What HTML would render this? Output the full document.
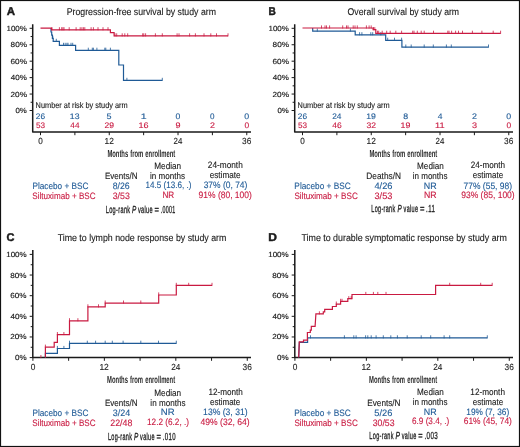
<!DOCTYPE html>
<html><head><meta charset="utf-8"><style>
html,body{margin:0;padding:0;background:#fff;}
svg{display:block;will-change:transform;}
text{font-family:"Liberation Sans",sans-serif;text-rendering:geometricPrecision;}
</style></head><body>
<svg width="520" height="447" viewBox="0 0 520 447">
<rect x="0.5" y="0.5" width="519" height="446" fill="#fff" stroke="#111" stroke-width="1.2"/>
<path d="M32.70,24.20V132.00H251.00" fill="none" stroke="#1a1a1a" stroke-width="1.5" stroke-linejoin="round"/>
<path d="M29.60,28.30H32.70M30.60,36.52H32.70M29.60,44.74H32.70M30.60,52.96H32.70M29.60,61.18H32.70M30.60,69.40H32.70M29.60,77.62H32.70M30.60,85.84H32.70M29.60,94.06H32.70M30.60,102.28H32.70M29.60,110.50H32.70" fill="none" stroke="#1a1a1a" stroke-width="1"/>
<path d="M40.50,132.00V135.20M74.88,132.00V135.20M109.26,132.00V135.20M143.64,132.00V135.20M178.02,132.00V135.20M212.40,132.00V135.20M246.78,132.00V135.20" fill="none" stroke="#1a1a1a" stroke-width="1"/>
<path d="M294.70,24.20V132.00H513.00" fill="none" stroke="#1a1a1a" stroke-width="1.5" stroke-linejoin="round"/>
<path d="M291.60,28.30H294.70M292.60,36.52H294.70M291.60,44.74H294.70M292.60,52.96H294.70M291.60,61.18H294.70M292.60,69.40H294.70M291.60,77.62H294.70M292.60,85.84H294.70M291.60,94.06H294.70M292.60,102.28H294.70M291.60,110.50H294.70" fill="none" stroke="#1a1a1a" stroke-width="1"/>
<path d="M302.50,132.00V135.20M336.88,132.00V135.20M371.26,132.00V135.20M405.64,132.00V135.20M440.02,132.00V135.20M474.40,132.00V135.20M508.78,132.00V135.20" fill="none" stroke="#1a1a1a" stroke-width="1"/>
<path d="M32.80,250.10V357.60H251.00" fill="none" stroke="#1a1a1a" stroke-width="1.5" stroke-linejoin="round"/>
<path d="M29.70,254.40H32.80M30.70,264.72H32.80M29.70,275.04H32.80M30.70,285.36H32.80M29.70,295.68H32.80M30.70,306.00H32.80M29.70,316.32H32.80M30.70,326.64H32.80M29.70,336.96H32.80M30.70,347.28H32.80M29.70,357.60H32.80" fill="none" stroke="#1a1a1a" stroke-width="1"/>
<path d="M32.90,357.60V360.80M68.63,357.60V360.80M104.36,357.60V360.80M140.09,357.60V360.80M175.82,357.60V360.80M211.55,357.60V360.80M247.28,357.60V360.80" fill="none" stroke="#1a1a1a" stroke-width="1"/>
<path d="M294.80,250.10V357.60H513.00" fill="none" stroke="#1a1a1a" stroke-width="1.5" stroke-linejoin="round"/>
<path d="M291.70,254.40H294.80M292.70,264.72H294.80M291.70,275.04H294.80M292.70,285.36H294.80M291.70,295.68H294.80M292.70,306.00H294.80M291.70,316.32H294.80M292.70,326.64H294.80M291.70,336.96H294.80M292.70,347.28H294.80M291.70,357.60H294.80" fill="none" stroke="#1a1a1a" stroke-width="1"/>
<path d="M294.90,357.60V360.80M330.63,357.60V360.80M366.36,357.60V360.80M402.09,357.60V360.80M437.82,357.60V360.80M473.55,357.60V360.80M509.28,357.60V360.80" fill="none" stroke="#1a1a1a" stroke-width="1"/>
<path d="M51.0,28.1V32H51.7V35.2H52.4V38.3H53.2V41.4H59.4V45.4H75.6V50.3H118.8V65H123.5V80.4H162.3" fill="none" stroke="#1f5a96" stroke-width="1.2" stroke-linejoin="miter" stroke-linecap="butt"/>
<path d="M52.80,38.80V35.70M56.30,41.90V38.80M63.50,45.90V42.80M65.20,45.90V42.80M66.90,45.90V42.80M68.00,45.90V42.80M71.00,45.90V42.80M72.70,45.90V42.80M88.30,50.80V47.70M92.30,50.80V47.70M93.40,50.80V47.70M96.90,50.80V47.70M104.80,50.80V47.70M105.80,50.80V47.70M110.40,50.80V47.70M126.90,80.90V77.80M162.30,80.90V77.80" fill="none" stroke="#1f5a96" stroke-width="0.8"/>
<path d="M40.5,28.1H51.6V29.8H110.4V32.7H114.1V35.9H228" fill="none" stroke="#c91a41" stroke-width="1.2" stroke-linejoin="miter" stroke-linecap="butt"/>
<path d="M51.90,30.30V27.20M59.40,30.30V27.20M61.70,30.30V27.20M62.90,30.30V27.20M64.00,30.30V27.20M69.20,30.30V27.20M76.10,30.30V27.20M80.20,30.30V27.20M81.90,30.30V27.20M83.40,30.30V27.20M84.80,30.30V27.20M91.10,30.30V27.20M93.40,30.30V27.20M98.00,30.30V27.20M103.00,30.30V27.20M108.00,30.30V27.20M115.00,36.40V33.30M116.70,36.40V33.30M122.20,36.40V33.30M124.80,36.40V33.30M127.70,36.40V33.30M142.70,36.40V33.30M143.80,36.40V33.30M145.60,36.40V33.30M155.40,36.40V33.30M162.30,36.40V33.30M177.10,36.40V33.30M179.00,36.40V33.30M189.60,36.40V33.30M195.40,36.40V33.30M204.00,36.40V33.30M210.80,36.40V33.30M216.50,36.40V33.30M228.00,36.40V33.30" fill="none" stroke="#c91a41" stroke-width="0.8"/>
<path d="M312.7,28V31.1H355.2V34.8H385.7V40.3H401.9V47.1H488.5" fill="none" stroke="#1f5a96" stroke-width="1.2" stroke-linejoin="miter" stroke-linecap="butt"/>
<path d="M317.30,31.60V28.50M350.40,31.60V28.50M359.60,35.30V32.20M361.90,35.30V32.20M370.80,35.30V32.20M372.70,35.30V32.20M380.80,35.30V32.20M387.70,40.80V37.70M394.50,40.80V37.70M401.60,40.80V37.70M405.80,47.60V44.50M411.20,47.60V44.50M424.20,47.60V44.50M433.30,47.60V44.50M446.40,47.60V44.50M451.30,47.60V44.50M488.50,47.60V44.50" fill="none" stroke="#1f5a96" stroke-width="0.8"/>
<path d="M302.5,28H373.1V29.7H375.8V33.3H500.6" fill="none" stroke="#c91a41" stroke-width="1.2" stroke-linejoin="miter" stroke-linecap="butt"/>
<path d="M321.50,28.50V25.40M325.00,28.50V25.40M326.50,28.50V25.40M329.60,28.50V25.40M342.70,28.50V25.40M346.50,28.50V25.40M348.00,28.50V25.40M353.20,28.50V25.40M355.00,28.50V25.40M357.30,28.50V25.40M366.40,28.50V25.40M369.10,28.50V25.40M371.20,28.50V25.40M373.50,30.20V27.10M374.80,30.20V27.10M377.50,33.80V30.70M378.70,33.80V30.70M382.20,33.80V30.70M386.70,33.80V30.70M390.20,33.80V30.70M395.80,33.80V30.70M401.60,33.80V30.70M412.70,33.80V30.70M414.00,33.80V30.70M417.30,33.80V30.70M421.20,33.80V30.70M424.20,33.80V30.70M433.50,33.80V30.70M447.80,33.80V30.70M449.00,33.80V30.70M451.60,33.80V30.70M455.60,33.80V30.70M458.50,33.80V30.70M462.50,33.80V30.70M472.40,33.80V30.70M481.90,33.80V30.70M493.20,33.80V30.70M500.60,33.80V30.70" fill="none" stroke="#c91a41" stroke-width="0.8"/>
<path d="M45.4,357.6V353.4H57.4V348.5H69.5V343.3H176.3" fill="none" stroke="#1f5a96" stroke-width="1.2" stroke-linejoin="miter" stroke-linecap="butt"/>
<path d="M57.40,349.00V345.90M63.90,349.00V345.90M69.50,343.80V340.70M87.30,343.80V340.70M95.60,343.80V340.70M105.20,343.80V340.70M112.30,343.80V340.70M123.10,343.80V340.70M140.80,343.80V340.70M158.50,343.80V340.70M176.30,343.80V340.70" fill="none" stroke="#1f5a96" stroke-width="0.8"/>
<path d="M45.4,357.6V347.2H54.2V342.4H57.4V334.6H69.5V320.8H87.9V306.9H105.2V303.1H158.7V295H176.3V285.4H212" fill="none" stroke="#c91a41" stroke-width="1.2" stroke-linejoin="miter" stroke-linecap="butt"/>
<path d="M40.90,358.10V355.00M45.40,347.70V344.60M57.40,335.10V332.00M63.90,335.10V332.00M69.50,321.30V318.20M77.90,321.30V318.20M87.90,307.40V304.30M98.50,307.40V304.30M105.20,303.60V300.50M123.50,303.60V300.50M140.80,303.60V300.50M158.70,295.50V292.40M176.30,285.90V282.80M188.70,285.90V282.80M212.00,285.90V282.80" fill="none" stroke="#c91a41" stroke-width="0.8"/>
<path d="M298.7,357.6L299.3,342.4H307.6V337.9H487.3" fill="none" stroke="#1f5a96" stroke-width="1.2" stroke-linejoin="miter" stroke-linecap="butt"/>
<path d="M310.50,338.40V335.30M344.40,338.40V335.30M353.80,338.40V335.30M356.10,338.40V335.30M365.60,338.40V335.30M367.80,338.40V335.30M371.20,338.40V335.30M376.10,338.40V335.30M383.30,338.40V335.30M390.80,338.40V335.30M397.40,338.40V335.30M407.20,338.40V335.30M421.20,338.40V335.30M430.70,338.40V335.30M444.10,338.40V335.30M449.70,338.40V335.30M487.30,338.40V335.30" fill="none" stroke="#1f5a96" stroke-width="0.8"/>
<path d="M298.7,357.6L299.3,341.9H303.5V340.2H307.4V332.5H310.3V330.1H311.3V326.4H315.1L315.9,313.9H323.3V311.8H324.7V309.4H332.4V306.5H336.3V304.1H340.6V301.4H347.8V298.7H352V294.5H435.6V285.4H492.2" fill="none" stroke="#c91a41" stroke-width="1.2" stroke-linejoin="miter" stroke-linecap="butt"/>
<path d="M319.40,314.40V311.30M336.30,304.60V301.50M340.60,301.90V298.80M342.00,301.90V298.80M348.80,299.20V296.10M351.20,299.20V296.10M365.80,295.00V291.90M373.40,295.00V291.90M377.80,295.00V291.90M386.00,295.00V291.90M449.70,285.90V282.80M480.70,285.90V282.80M492.20,285.90V282.80" fill="none" stroke="#c91a41" stroke-width="0.8"/>
<text id="t0" transform="translate(6.82,14.60) scale(1.0281,1)" font-size="11.2" fill="#1a1a1a" font-weight="bold" stroke="#1a1a1a" stroke-width="0.45">A</text>
<text id="t1" transform="translate(66.69,14.50) scale(0.8931,1)" font-size="9.8" fill="#1a1a1a" stroke="#1a1a1a" stroke-width="0.12">Progression-free survival by study arm</text>
<text id="t2" transform="translate(6.48,30.80) scale(1.0750,1)" font-size="7.4" fill="#1a1a1a" stroke="#1a1a1a" stroke-width="0.15">100%</text>
<text id="t3" transform="translate(10.59,47.24) scale(1.1071,1)" font-size="7.4" fill="#1a1a1a" stroke="#1a1a1a" stroke-width="0.15">80%</text>
<text id="t4" transform="translate(10.58,63.68) scale(1.1052,1)" font-size="7.4" fill="#1a1a1a" stroke="#1a1a1a" stroke-width="0.15">60%</text>
<text id="t5" transform="translate(10.77,80.12) scale(1.0796,1)" font-size="7.4" fill="#1a1a1a" stroke="#1a1a1a" stroke-width="0.15">40%</text>
<text id="t6" transform="translate(10.47,96.56) scale(1.1161,1)" font-size="7.4" fill="#1a1a1a" stroke="#1a1a1a" stroke-width="0.15">20%</text>
<text id="t7" transform="translate(15.42,113.00) scale(1.0622,1)" font-size="7.4" fill="#1a1a1a" stroke="#1a1a1a" stroke-width="0.15">0%</text>
<text id="t8" transform="translate(38.16,143.60) scale(0.9264,1)" font-size="8.8" fill="#222" stroke="#222" stroke-width="0.12">0</text>
<text id="t9" transform="translate(104.52,143.60) scale(0.9479,1)" font-size="8.8" fill="#222" stroke="#222" stroke-width="0.12">12</text>
<text id="t10" transform="translate(173.54,143.60) scale(0.8933,1)" font-size="8.8" fill="#222" stroke="#222" stroke-width="0.12">24</text>
<text id="t11" transform="translate(242.06,143.60) scale(0.9427,1)" font-size="8.8" fill="#222" stroke="#222" stroke-width="0.12">36</text>
<text id="t12" transform="translate(35.62,107.90) scale(0.8785,1)" font-size="8.4" fill="#1a1a1a" stroke="#1a1a1a" stroke-width="0.12">Number at risk by study arm</text>
<text id="t13" transform="translate(107.38,156.60) scale(0.5740,1)" font-size="10.2" fill="#2a2a2a" font-weight="bold" word-spacing="0.8">Months from enrollment</text>
<text id="t14" transform="translate(268.54,14.60) scale(0.9054,1)" font-size="11.2" fill="#1a1a1a" font-weight="bold" stroke="#1a1a1a" stroke-width="0.45">B</text>
<text id="t15" transform="translate(347.62,14.50) scale(0.8863,1)" font-size="9.8" fill="#1a1a1a" stroke="#1a1a1a" stroke-width="0.12">Overall survival by study arm</text>
<text id="t16" transform="translate(268.48,30.80) scale(1.0750,1)" font-size="7.4" fill="#1a1a1a" stroke="#1a1a1a" stroke-width="0.15">100%</text>
<text id="t17" transform="translate(272.59,47.24) scale(1.1071,1)" font-size="7.4" fill="#1a1a1a" stroke="#1a1a1a" stroke-width="0.15">80%</text>
<text id="t18" transform="translate(272.58,63.68) scale(1.1052,1)" font-size="7.4" fill="#1a1a1a" stroke="#1a1a1a" stroke-width="0.15">60%</text>
<text id="t19" transform="translate(272.77,80.12) scale(1.0796,1)" font-size="7.4" fill="#1a1a1a" stroke="#1a1a1a" stroke-width="0.15">40%</text>
<text id="t20" transform="translate(272.47,96.56) scale(1.1161,1)" font-size="7.4" fill="#1a1a1a" stroke="#1a1a1a" stroke-width="0.15">20%</text>
<text id="t21" transform="translate(277.42,113.00) scale(1.0622,1)" font-size="7.4" fill="#1a1a1a" stroke="#1a1a1a" stroke-width="0.15">0%</text>
<text id="t22" transform="translate(300.16,143.60) scale(0.9264,1)" font-size="8.8" fill="#222" stroke="#222" stroke-width="0.12">0</text>
<text id="t23" transform="translate(366.52,143.60) scale(0.9483,1)" font-size="8.8" fill="#222" stroke="#222" stroke-width="0.12">12</text>
<text id="t24" transform="translate(435.54,143.60) scale(0.8933,1)" font-size="8.8" fill="#222" stroke="#222" stroke-width="0.12">24</text>
<text id="t25" transform="translate(504.06,143.60) scale(0.9427,1)" font-size="8.8" fill="#222" stroke="#222" stroke-width="0.12">36</text>
<text id="t26" transform="translate(297.62,107.90) scale(0.8785,1)" font-size="8.4" fill="#1a1a1a" stroke="#1a1a1a" stroke-width="0.12">Number at risk by study arm</text>
<text id="t27" transform="translate(369.38,156.60) scale(0.5740,1)" font-size="10.2" fill="#2a2a2a" font-weight="bold" word-spacing="0.8">Months from enrollment</text>
<text id="t28" transform="translate(35.78,119.30) scale(1.0366,1)" font-size="8.0" fill="#1f5a96" stroke="#1f5a96" stroke-width="0.12">26</text>
<text id="t29" transform="translate(35.89,128.30) scale(1.0164,1)" font-size="8.0" fill="#c91a41" stroke="#c91a41" stroke-width="0.12">53</text>
<text id="t30" transform="translate(69.82,119.30) scale(1.0854,1)" font-size="8.0" fill="#1f5a96" stroke="#1f5a96" stroke-width="0.12">13</text>
<text id="t31" transform="translate(70.36,128.30) scale(1.0224,1)" font-size="8.0" fill="#c91a41" stroke="#c91a41" stroke-width="0.12">44</text>
<text id="t32" transform="translate(106.62,119.30) scale(1.1241,1)" font-size="8.0" fill="#1f5a96" stroke="#1f5a96" stroke-width="0.12">5</text>
<text id="t33" transform="translate(104.47,128.30) scale(1.0633,1)" font-size="8.0" fill="#c91a41" stroke="#c91a41" stroke-width="0.12">29</text>
<text id="t34" transform="translate(140.69,119.30) scale(1.3179,1)" font-size="8.0" fill="#1f5a96" stroke="#1f5a96" stroke-width="0.12">1</text>
<text id="t35" transform="translate(138.51,128.30) scale(1.1268,1)" font-size="8.0" fill="#c91a41" stroke="#c91a41" stroke-width="0.12">16</text>
<text id="t36" transform="translate(175.55,119.30) scale(1.0788,1)" font-size="8.0" fill="#1f5a96" stroke="#1f5a96" stroke-width="0.12">0</text>
<text id="t37" transform="translate(175.38,128.30) scale(1.1241,1)" font-size="8.0" fill="#c91a41" stroke="#c91a41" stroke-width="0.12">9</text>
<text id="t38" transform="translate(210.04,119.30) scale(1.0106,1)" font-size="8.0" fill="#1f5a96" stroke="#1f5a96" stroke-width="0.12">0</text>
<text id="t39" transform="translate(210.02,128.30) scale(1.1195,1)" font-size="8.0" fill="#c91a41" stroke="#c91a41" stroke-width="0.12">2</text>
<text id="t40" transform="translate(244.23,119.30) scale(1.0982,1)" font-size="8.0" fill="#1f5a96" stroke="#1f5a96" stroke-width="0.12">0</text>
<text id="t41" transform="translate(244.39,128.30) scale(1.0468,1)" font-size="8.0" fill="#c91a41" stroke="#c91a41" stroke-width="0.12">0</text>
<text id="t42" transform="translate(297.78,119.30) scale(1.0366,1)" font-size="8.0" fill="#1f5a96" stroke="#1f5a96" stroke-width="0.12">26</text>
<text id="t43" transform="translate(297.89,128.30) scale(1.0164,1)" font-size="8.0" fill="#c91a41" stroke="#c91a41" stroke-width="0.12">53</text>
<text id="t44" transform="translate(332.21,119.30) scale(1.0378,1)" font-size="8.0" fill="#1f5a96" stroke="#1f5a96" stroke-width="0.12">24</text>
<text id="t45" transform="translate(332.30,128.30) scale(1.0659,1)" font-size="8.0" fill="#c91a41" stroke="#c91a41" stroke-width="0.12">46</text>
<text id="t46" transform="translate(366.29,119.30) scale(1.0801,1)" font-size="8.0" fill="#1f5a96" stroke="#1f5a96" stroke-width="0.12">19</text>
<text id="t47" transform="translate(366.61,128.30) scale(1.0690,1)" font-size="8.0" fill="#c91a41" stroke="#c91a41" stroke-width="0.12">32</text>
<text id="t48" transform="translate(403.15,119.30) scale(1.0943,1)" font-size="8.0" fill="#1f5a96" stroke="#1f5a96" stroke-width="0.12">8</text>
<text id="t49" transform="translate(400.61,128.30) scale(1.1006,1)" font-size="8.0" fill="#c91a41" stroke="#c91a41" stroke-width="0.12">19</text>
<text id="t50" transform="translate(437.79,119.30) scale(1.0616,1)" font-size="8.0" fill="#1f5a96" stroke="#1f5a96" stroke-width="0.12">4</text>
<text id="t51" transform="translate(435.08,128.30) scale(1.1509,1)" font-size="8.0" fill="#c91a41" stroke="#c91a41" stroke-width="0.12">11</text>
<text id="t52" transform="translate(472.04,119.30) scale(1.1183,1)" font-size="8.0" fill="#1f5a96" stroke="#1f5a96" stroke-width="0.12">2</text>
<text id="t53" transform="translate(471.88,128.30) scale(1.1340,1)" font-size="8.0" fill="#c91a41" stroke="#c91a41" stroke-width="0.12">3</text>
<text id="t54" transform="translate(506.23,119.30) scale(1.0982,1)" font-size="8.0" fill="#1f5a96" stroke="#1f5a96" stroke-width="0.12">0</text>
<text id="t55" transform="translate(506.39,128.30) scale(1.0468,1)" font-size="8.0" fill="#c91a41" stroke="#c91a41" stroke-width="0.12">0</text>
<text id="t56" transform="translate(6.59,241.00) scale(0.9855,1)" font-size="11.2" fill="#1a1a1a" font-weight="bold" stroke="#1a1a1a" stroke-width="0.45">C</text>
<text id="t57" transform="translate(57.67,241.10) scale(0.8995,1)" font-size="9.8" fill="#1a1a1a" stroke="#1a1a1a" stroke-width="0.12">Time to lymph node response by study arm</text>
<text id="t58" transform="translate(6.18,256.90) scale(1.0853,1)" font-size="7.4" fill="#1a1a1a" stroke="#1a1a1a" stroke-width="0.15">100%</text>
<text id="t59" transform="translate(10.26,277.54) scale(1.0985,1)" font-size="7.4" fill="#1a1a1a" stroke="#1a1a1a" stroke-width="0.15">80%</text>
<text id="t60" transform="translate(10.32,298.18) scale(1.0962,1)" font-size="7.4" fill="#1a1a1a" stroke="#1a1a1a" stroke-width="0.15">60%</text>
<text id="t61" transform="translate(10.49,318.82) scale(1.0923,1)" font-size="7.4" fill="#1a1a1a" stroke="#1a1a1a" stroke-width="0.15">40%</text>
<text id="t62" transform="translate(10.22,339.46) scale(1.1136,1)" font-size="7.4" fill="#1a1a1a" stroke="#1a1a1a" stroke-width="0.15">20%</text>
<text id="t63" transform="translate(15.08,360.10) scale(1.0898,1)" font-size="7.4" fill="#1a1a1a" stroke="#1a1a1a" stroke-width="0.15">0%</text>
<text id="t64" transform="translate(30.70,369.70) scale(0.9474,1)" font-size="8.8" fill="#222" stroke="#222" stroke-width="0.12">0</text>
<text id="t65" transform="translate(99.40,369.70) scale(0.9633,1)" font-size="8.8" fill="#222" stroke="#222" stroke-width="0.12">12</text>
<text id="t66" transform="translate(171.18,369.70) scale(0.9289,1)" font-size="8.8" fill="#222" stroke="#222" stroke-width="0.12">24</text>
<text id="t67" transform="translate(242.56,369.70) scale(0.9429,1)" font-size="8.8" fill="#222" stroke="#222" stroke-width="0.12">36</text>
<text id="t68" transform="translate(107.12,382.60) scale(0.5756,1)" font-size="10.2" fill="#2a2a2a" font-weight="bold" word-spacing="0.8">Months from enrollment</text>
<text id="t69" transform="translate(268.28,241.00) scale(1.0745,1)" font-size="11.2" fill="#1a1a1a" font-weight="bold" stroke="#1a1a1a" stroke-width="0.45">D</text>
<text id="t70" transform="translate(301.45,241.10) scale(0.9041,1)" font-size="9.8" fill="#1a1a1a" stroke="#1a1a1a" stroke-width="0.12">Time to durable symptomatic response by study arm</text>
<text id="t71" transform="translate(268.18,256.90) scale(1.0853,1)" font-size="7.4" fill="#1a1a1a" stroke="#1a1a1a" stroke-width="0.15">100%</text>
<text id="t72" transform="translate(272.26,277.54) scale(1.0985,1)" font-size="7.4" fill="#1a1a1a" stroke="#1a1a1a" stroke-width="0.15">80%</text>
<text id="t73" transform="translate(272.32,298.18) scale(1.0962,1)" font-size="7.4" fill="#1a1a1a" stroke="#1a1a1a" stroke-width="0.15">60%</text>
<text id="t74" transform="translate(272.49,318.82) scale(1.0923,1)" font-size="7.4" fill="#1a1a1a" stroke="#1a1a1a" stroke-width="0.15">40%</text>
<text id="t75" transform="translate(272.22,339.46) scale(1.1136,1)" font-size="7.4" fill="#1a1a1a" stroke="#1a1a1a" stroke-width="0.15">20%</text>
<text id="t76" transform="translate(277.08,360.10) scale(1.0898,1)" font-size="7.4" fill="#1a1a1a" stroke="#1a1a1a" stroke-width="0.15">0%</text>
<text id="t77" transform="translate(292.70,369.70) scale(0.9474,1)" font-size="8.8" fill="#222" stroke="#222" stroke-width="0.12">0</text>
<text id="t78" transform="translate(361.40,369.70) scale(0.9633,1)" font-size="8.8" fill="#222" stroke="#222" stroke-width="0.12">12</text>
<text id="t79" transform="translate(433.18,369.70) scale(0.9289,1)" font-size="8.8" fill="#222" stroke="#222" stroke-width="0.12">24</text>
<text id="t80" transform="translate(504.56,369.70) scale(0.9429,1)" font-size="8.8" fill="#222" stroke="#222" stroke-width="0.12">36</text>
<text id="t81" transform="translate(369.12,382.60) scale(0.5756,1)" font-size="10.2" fill="#2a2a2a" font-weight="bold" word-spacing="0.8">Months from enrollment</text>
<text id="t82" transform="translate(32.45,189.00) scale(0.8960,1)" font-size="9.2" fill="#1f5a96" stroke="#1f5a96" stroke-width="0.12">Placebo + BSC</text>
<text id="t83" transform="translate(32.33,199.00) scale(0.8807,1)" font-size="9.2" fill="#c91a41" stroke="#c91a41" stroke-width="0.12">Siltuximab + BSC</text>
<text id="t84" transform="translate(104.90,179.00) scale(0.8727,1)" font-size="9.2" fill="#1a1a1a" stroke="#1a1a1a" stroke-width="0.12">Events/N</text>
<text id="t85" transform="translate(112.71,189.00) scale(0.9512,1)" font-size="9.2" fill="#1f5a96" stroke="#1f5a96" stroke-width="0.12">8/26</text>
<text id="t86" transform="translate(112.71,199.00) scale(0.9571,1)" font-size="9.2" fill="#c91a41" stroke="#c91a41" stroke-width="0.12">3/53</text>
<text id="t87" transform="translate(154.30,169.00) scale(0.8916,1)" font-size="9.2" fill="#1a1a1a" stroke="#1a1a1a" stroke-width="0.12">Median</text>
<text id="t88" transform="translate(150.08,179.00) scale(0.8746,1)" font-size="9.2" fill="#1a1a1a" stroke="#1a1a1a" stroke-width="0.12">in months</text>
<text id="t89" transform="translate(145.58,188.00) scale(0.8780,1)" font-size="9.2" fill="#1f5a96" stroke="#1f5a96" stroke-width="0.12">14.5 (13.6, .)</text>
<text id="t90" transform="translate(162.42,198.00) scale(0.8863,1)" font-size="9.2" fill="#c91a41" stroke="#c91a41" stroke-width="0.12">NR</text>
<text id="t91" transform="translate(207.81,168.00) scale(0.8995,1)" font-size="9.2" fill="#1a1a1a" stroke="#1a1a1a" stroke-width="0.12">24-month</text>
<text id="t92" transform="translate(209.71,178.00) scale(0.8891,1)" font-size="9.2" fill="#1a1a1a" stroke="#1a1a1a" stroke-width="0.12">estimate</text>
<text id="t93" transform="translate(203.65,188.00) scale(0.9204,1)" font-size="9.2" fill="#1f5a96" stroke="#1f5a96" stroke-width="0.12">37% (0, 74)</text>
<text id="t94" transform="translate(198.54,198.00) scale(0.9235,1)" font-size="9.2" fill="#c91a41" stroke="#c91a41" stroke-width="0.12">91% (80, 100)</text>
<text id="t95" transform="translate(105.74,213.00) scale(0.5490,1)" font-size="10.2" fill="#222" stroke="#222" stroke-width="0.32" letter-spacing="0.6">Log-rank</text>
<text id="t96" transform="translate(131.98,213.00) scale(0.6248,1)" font-size="10.2" fill="#222" font-style="italic" stroke="#222" stroke-width="0.32">P</text>
<text id="t97" transform="translate(137.88,213.00) scale(0.5481,1)" font-size="10.2" fill="#222" stroke="#222" stroke-width="0.32" letter-spacing="0.6">value</text>
<text id="t98" transform="translate(154.62,213.00) scale(0.7455,1)" font-size="10.2" fill="#222" stroke="#222" stroke-width="0.32">=</text>
<text id="t99" transform="translate(160.76,213.00) scale(0.5213,1)" font-size="10.2" fill="#222" stroke="#222" stroke-width="0.32" letter-spacing="0.6">.0001</text>
<text id="t100" transform="translate(294.36,189.00) scale(0.9015,1)" font-size="9.2" fill="#1f5a96" stroke="#1f5a96" stroke-width="0.12">Placebo + BSC</text>
<text id="t101" transform="translate(294.38,199.00) scale(0.8844,1)" font-size="9.2" fill="#c91a41" stroke="#c91a41" stroke-width="0.12">Siltuximab + BSC</text>
<text id="t102" transform="translate(366.37,179.00) scale(0.9024,1)" font-size="9.2" fill="#1a1a1a" stroke="#1a1a1a" stroke-width="0.12">Deaths/N</text>
<text id="t103" transform="translate(374.38,189.00) scale(1.0122,1)" font-size="9.2" fill="#1f5a96" stroke="#1f5a96" stroke-width="0.12">4/26</text>
<text id="t104" transform="translate(374.49,199.00) scale(1.0002,1)" font-size="9.2" fill="#c91a41" stroke="#c91a41" stroke-width="0.12">3/53</text>
<text id="t105" transform="translate(417.09,169.00) scale(0.8848,1)" font-size="9.2" fill="#1a1a1a" stroke="#1a1a1a" stroke-width="0.12">Median</text>
<text id="t106" transform="translate(412.72,179.00) scale(0.8733,1)" font-size="9.2" fill="#1a1a1a" stroke="#1a1a1a" stroke-width="0.12">in months</text>
<text id="t107" transform="translate(423.80,188.60) scale(0.9690,1)" font-size="9.2" fill="#1f5a96" stroke="#1f5a96" stroke-width="0.12">NR</text>
<text id="t108" transform="translate(424.02,198.00) scale(0.9485,1)" font-size="9.2" fill="#c91a41" stroke="#c91a41" stroke-width="0.12">NR</text>
<text id="t109" transform="translate(470.69,168.00) scale(0.8825,1)" font-size="9.2" fill="#1a1a1a" stroke="#1a1a1a" stroke-width="0.12">24-month</text>
<text id="t110" transform="translate(472.85,178.00) scale(0.8730,1)" font-size="9.2" fill="#1a1a1a" stroke="#1a1a1a" stroke-width="0.12">estimate</text>
<text id="t111" transform="translate(463.57,188.60) scale(0.9209,1)" font-size="9.2" fill="#1f5a96" stroke="#1f5a96" stroke-width="0.12">77% (55, 98)</text>
<text id="t112" transform="translate(461.19,198.00) scale(0.9269,1)" font-size="9.2" fill="#c91a41" stroke="#c91a41" stroke-width="0.12">93% (85, 100)</text>
<text id="t113" transform="translate(371.35,212.00) scale(0.5369,1)" font-size="10.2" fill="#222" stroke="#222" stroke-width="0.32" letter-spacing="0.6">Log-rank</text>
<text id="t114" transform="translate(397.55,212.00) scale(0.6185,1)" font-size="10.2" fill="#222" font-style="italic" stroke="#222" stroke-width="0.32">P</text>
<text id="t115" transform="translate(403.60,212.00) scale(0.5389,1)" font-size="10.2" fill="#222" stroke="#222" stroke-width="0.32" letter-spacing="0.6">value</text>
<text id="t116" transform="translate(420.04,212.00) scale(0.7569,1)" font-size="10.2" fill="#222" stroke="#222" stroke-width="0.32">=</text>
<text id="t117" transform="translate(426.12,212.00) scale(0.5879,1)" font-size="10.2" fill="#222" stroke="#222" stroke-width="0.32" letter-spacing="0.6">.11</text>
<text id="t118" transform="translate(32.45,416.00) scale(0.8960,1)" font-size="9.2" fill="#1f5a96" stroke="#1f5a96" stroke-width="0.12">Placebo + BSC</text>
<text id="t119" transform="translate(32.33,426.00) scale(0.8807,1)" font-size="9.2" fill="#c91a41" stroke="#c91a41" stroke-width="0.12">Siltuximab + BSC</text>
<text id="t120" transform="translate(104.90,406.00) scale(0.8727,1)" font-size="9.2" fill="#1a1a1a" stroke="#1a1a1a" stroke-width="0.12">Events/N</text>
<text id="t121" transform="translate(112.67,416.00) scale(0.9756,1)" font-size="9.2" fill="#1f5a96" stroke="#1f5a96" stroke-width="0.12">3/24</text>
<text id="t122" transform="translate(110.23,426.00) scale(0.9654,1)" font-size="9.2" fill="#c91a41" stroke="#c91a41" stroke-width="0.12">22/48</text>
<text id="t123" transform="translate(154.30,396.00) scale(0.8916,1)" font-size="9.2" fill="#1a1a1a" stroke="#1a1a1a" stroke-width="0.12">Median</text>
<text id="t124" transform="translate(150.37,406.00) scale(0.8803,1)" font-size="9.2" fill="#1a1a1a" stroke="#1a1a1a" stroke-width="0.12">in months</text>
<text id="t125" transform="translate(160.74,415.00) scale(1.0383,1)" font-size="9.2" fill="#1f5a96" stroke="#1f5a96" stroke-width="0.12">NR</text>
<text id="t126" transform="translate(147.02,425.00) scale(0.8931,1)" font-size="9.2" fill="#c91a41" stroke="#c91a41" stroke-width="0.12">12.2 (6.2, .)</text>
<text id="t127" transform="translate(208.44,395.00) scale(0.8852,1)" font-size="9.2" fill="#1a1a1a" stroke="#1a1a1a" stroke-width="0.12">12-month</text>
<text id="t128" transform="translate(209.94,405.00) scale(0.8749,1)" font-size="9.2" fill="#1a1a1a" stroke="#1a1a1a" stroke-width="0.12">estimate</text>
<text id="t129" transform="translate(203.09,415.00) scale(0.9370,1)" font-size="9.2" fill="#1f5a96" stroke="#1f5a96" stroke-width="0.12">13% (3, 31)</text>
<text id="t130" transform="translate(200.57,425.00) scale(0.9335,1)" font-size="9.2" fill="#c91a41" stroke="#c91a41" stroke-width="0.12">49% (32, 64)</text>
<text id="t131" transform="translate(107.89,440.00) scale(0.5433,1)" font-size="10.2" fill="#222" stroke="#222" stroke-width="0.32" letter-spacing="0.6">Log-rank</text>
<text id="t132" transform="translate(133.97,440.00) scale(0.6277,1)" font-size="10.2" fill="#222" font-style="italic" stroke="#222" stroke-width="0.32">P</text>
<text id="t133" transform="translate(140.08,440.00) scale(0.5399,1)" font-size="10.2" fill="#222" stroke="#222" stroke-width="0.32" letter-spacing="0.6">value</text>
<text id="t134" transform="translate(156.55,440.00) scale(0.7487,1)" font-size="10.2" fill="#222" stroke="#222" stroke-width="0.32">=</text>
<text id="t135" transform="translate(162.85,440.00) scale(0.5901,1)" font-size="10.2" fill="#222" stroke="#222" stroke-width="0.32" letter-spacing="0.6">.010</text>
<text id="t136" transform="translate(294.36,416.00) scale(0.9015,1)" font-size="9.2" fill="#1f5a96" stroke="#1f5a96" stroke-width="0.12">Placebo + BSC</text>
<text id="t137" transform="translate(294.38,426.00) scale(0.8844,1)" font-size="9.2" fill="#c91a41" stroke="#c91a41" stroke-width="0.12">Siltuximab + BSC</text>
<text id="t138" transform="translate(367.32,406.00) scale(0.8902,1)" font-size="9.2" fill="#1a1a1a" stroke="#1a1a1a" stroke-width="0.12">Events/N</text>
<text id="t139" transform="translate(374.35,416.00) scale(1.0109,1)" font-size="9.2" fill="#1f5a96" stroke="#1f5a96" stroke-width="0.12">5/26</text>
<text id="t140" transform="translate(372.63,426.00) scale(0.9541,1)" font-size="9.2" fill="#c91a41" stroke="#c91a41" stroke-width="0.12">30/53</text>
<text id="t141" transform="translate(417.09,395.00) scale(0.8848,1)" font-size="9.2" fill="#1a1a1a" stroke="#1a1a1a" stroke-width="0.12">Median</text>
<text id="t142" transform="translate(412.72,405.00) scale(0.8733,1)" font-size="9.2" fill="#1a1a1a" stroke="#1a1a1a" stroke-width="0.12">in months</text>
<text id="t143" transform="translate(423.80,415.00) scale(0.9690,1)" font-size="9.2" fill="#1f5a96" stroke="#1f5a96" stroke-width="0.12">NR</text>
<text id="t144" transform="translate(412.04,424.00) scale(0.8881,1)" font-size="9.2" fill="#c91a41" stroke="#c91a41" stroke-width="0.12">6.9 (3.4, .)</text>
<text id="t145" transform="translate(470.33,395.00) scale(0.8919,1)" font-size="9.2" fill="#1a1a1a" stroke="#1a1a1a" stroke-width="0.12">12-month</text>
<text id="t146" transform="translate(472.85,405.00) scale(0.8730,1)" font-size="9.2" fill="#1a1a1a" stroke="#1a1a1a" stroke-width="0.12">estimate</text>
<text id="t147" transform="translate(466.28,415.00) scale(0.9033,1)" font-size="9.2" fill="#1f5a96" stroke="#1f5a96" stroke-width="0.12">19% (7, 36)</text>
<text id="t148" transform="translate(463.70,424.00) scale(0.9166,1)" font-size="9.2" fill="#c91a41" stroke="#c91a41" stroke-width="0.12">61% (45, 74)</text>
<text id="t149" transform="translate(369.37,438.60) scale(0.5436,1)" font-size="10.2" fill="#222" stroke="#222" stroke-width="0.32" letter-spacing="0.6">Log-rank</text>
<text id="t150" transform="translate(395.53,438.60) scale(0.6570,1)" font-size="10.2" fill="#222" font-style="italic" stroke="#222" stroke-width="0.32">P</text>
<text id="t151" transform="translate(401.67,438.60) scale(0.5460,1)" font-size="10.2" fill="#222" stroke="#222" stroke-width="0.32" letter-spacing="0.6">value</text>
<text id="t152" transform="translate(418.23,438.60) scale(0.7285,1)" font-size="10.2" fill="#222" stroke="#222" stroke-width="0.32">=</text>
<text id="t153" transform="translate(424.52,438.60) scale(0.6132,1)" font-size="10.2" fill="#222" stroke="#222" stroke-width="0.32" letter-spacing="0.6">.003</text>
</svg>
</body></html>
